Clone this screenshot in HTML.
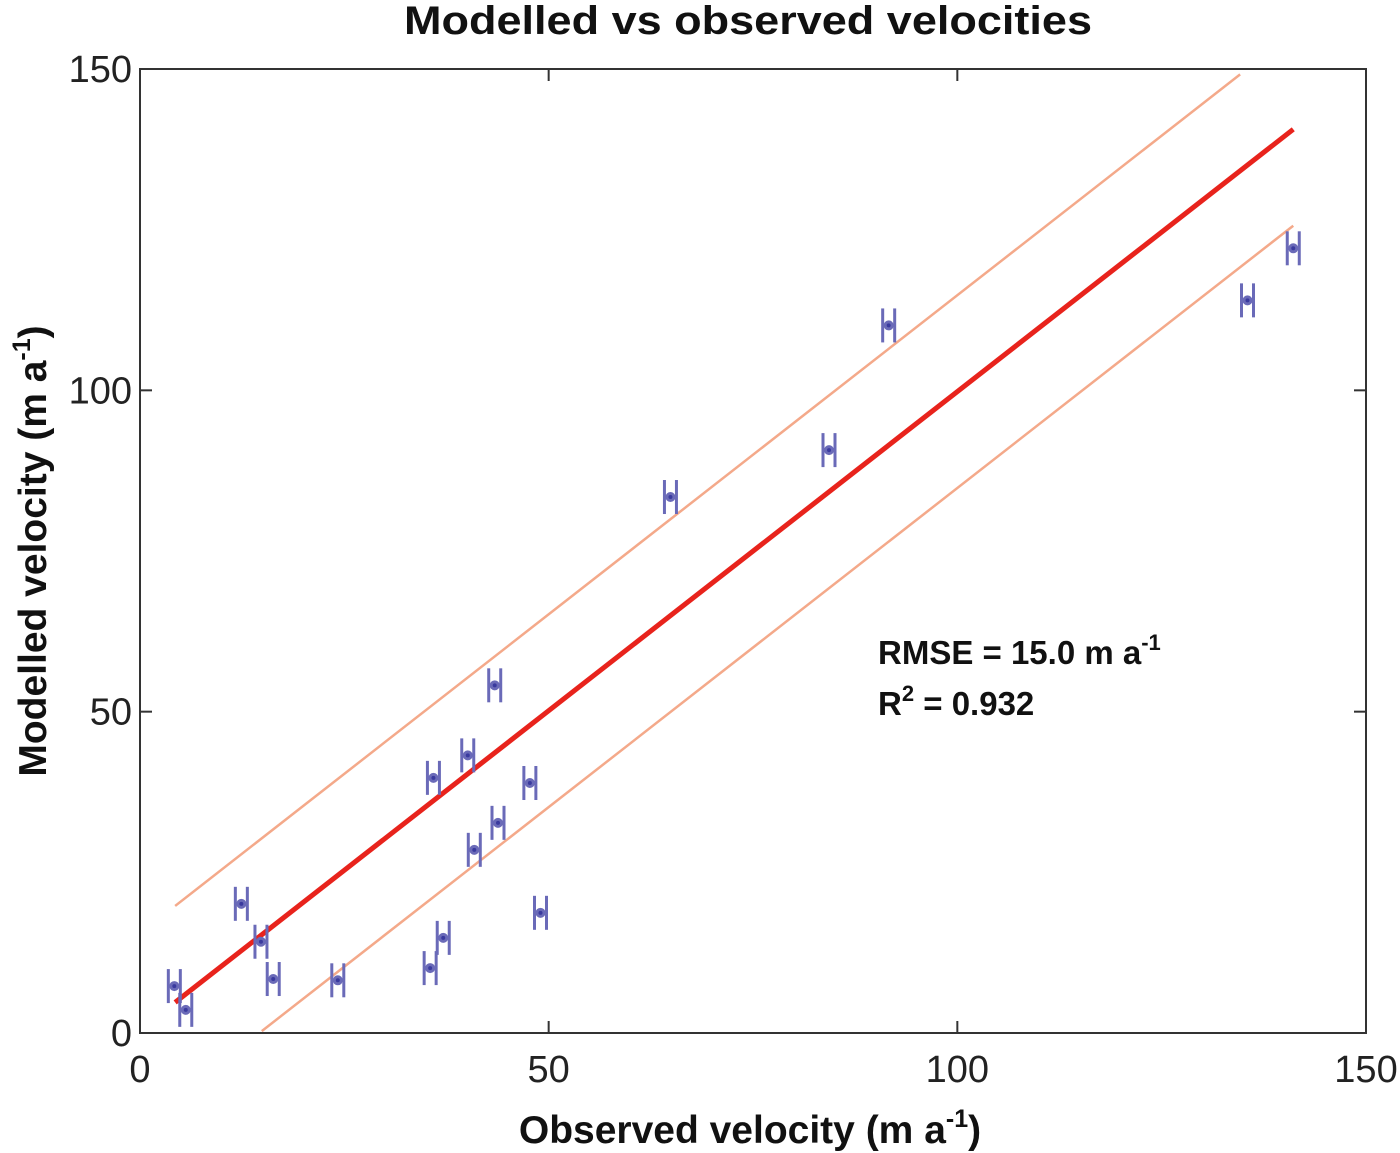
<!DOCTYPE html>
<html><head><meta charset="utf-8"><style>
body{margin:0;background:#fff}
svg{display:block;font-family:"Liberation Sans",sans-serif}
</style></head><body>
<svg id="chart" width="1400" height="1153" viewBox="0 0 1400 1153" xmlns="http://www.w3.org/2000/svg">
<text x="748" y="34" text-anchor="middle" font-size="40" font-weight="bold" fill="#111" textLength="688" lengthAdjust="spacingAndGlyphs">Modelled vs observed velocities</text>
<rect x="140" y="69" width="1226" height="964" fill="none" stroke="#333" stroke-width="2"/>
<g id="ticks"></g>
<g id="lines"></g>
<g id="points"></g>
<text x="878" y="664" font-size="33" font-weight="bold" fill="#111">RMSE = 15.0 m a<tspan dy="-14" font-size="22">-1</tspan></text>
<text x="878" y="715" font-size="33" font-weight="bold" fill="#111">R<tspan dy="-14" font-size="22">2</tspan><tspan dy="14"> = 0.932</tspan></text>
<text x="750" y="1143" text-anchor="middle" font-size="39" font-weight="bold" fill="#111">Observed velocity (m a<tspan dy="-16" font-size="25">-1</tspan><tspan dy="16">)</tspan></text>
<text transform="translate(46,551) rotate(-90)" text-anchor="middle" font-size="39" font-weight="bold" fill="#111">Modelled velocity (m a<tspan dy="-16" font-size="25">-1</tspan><tspan dy="16">)</tspan></text>
</svg>
<script>
const xTicks=[0,50,100,150];
const yTicks=[0,50,100,150];
const obs=[4.2,5.6,12.4,14.8,16.3,24.2,35.5,37.1,35.9,40.1,43.4,40.9,43.8,47.7,49.0,64.9,84.3,91.6,135.5,141.1];
const mod=[7.3,3.6,20.1,14.2,8.4,8.2,10.1,14.8,39.7,43.2,54.1,28.5,32.7,38.9,18.7,83.4,90.7,110.1,114.0,122.1];
const fitSlope=0.993, fitIntercept=0.5, band=15;
const fitRange=[4.3,141.1];
const bandRangeUpper=[4.3,134.6];
const bandRangeLower=[14.9,141.1];

const X0=140,X1=1366,Y0=1033,Y1=69;
const sx=v=>X0+(v/150)*(X1-X0);
const sy=v=>Y0-(v/150)*(Y0-Y1);
const NS='http://www.w3.org/2000/svg';
function mk(tag,parent,attrs){const e=document.createElementNS(NS,tag);for(const k in attrs)e.setAttribute(k,attrs[k]);parent.appendChild(e);return e;}
const tg=document.getElementById('ticks');
xTicks.forEach(t=>{
  const l=mk('line',tg,{x1:sx(t),x2:sx(t),y1:Y0,y2:Y0-12,stroke:'#333','stroke-width':2});
  
  
  const l2=mk('line',tg,{x1:sx(t),x2:sx(t),y1:Y1,y2:Y1+12,stroke:'#333','stroke-width':2});
  
  
  const tx=mk('text',tg,{x:sx(t),y:1082,'text-anchor':'middle','font-size':38,fill:'#222'});
  tx.textContent=t;
  
  
});
yTicks.forEach(t=>{
  const l=mk('line',tg,{x1:X0,x2:X0+12,y1:sy(t),y2:sy(t),stroke:'#333','stroke-width':2});
  
  
  const l2=mk('line',tg,{x1:X1,x2:X1-12,y1:sy(t),y2:sy(t),stroke:'#333','stroke-width':2});
  
  
  const tx=mk('text',tg,{x:132,y:sy(t)+13,'text-anchor':'end','font-size':38,fill:'#222'});
  tx.textContent=t;
  
  
});
const lg=document.getElementById('lines');
function seg(r,off,color,w,name){
  const y=x=>fitSlope*x+fitIntercept+off;
  const l=mk('line',lg,{x1:sx(r[0]),y1:sy(y(r[0])),x2:sx(r[1]),y2:sy(y(r[1])),stroke:color,'stroke-width':w});
  
  
}
seg(bandRangeUpper,band,'#f4a98a',2.5,'upper-band-line');
seg(bandRangeLower,-band,'#f4a98a',2.5,'lower-band-line');
seg(fitRange,0,'#e8231c',5,'fit-line');
const pg=document.getElementById('points');
obs.forEach((o,i)=>{
  const cx=sx(o),cy=sy(mod[i]);
  const g=mk('g',pg,{stroke:'#6a6ab8','stroke-width':3,fill:'none'});
  
  
  mk('line',g,{x1:cx-6,x2:cx-6,y1:cy-17,y2:cy+17});
  mk('line',g,{x1:cx+6,x2:cx+6,y1:cy-17,y2:cy+17});
  mk('line',g,{x1:cx-6,x2:cx+6,y1:cy,y2:cy});
  mk('circle',g,{cx:cx,cy:cy,r:3.5,fill:'#3a3a9e'});
});
</script>
</body></html>
